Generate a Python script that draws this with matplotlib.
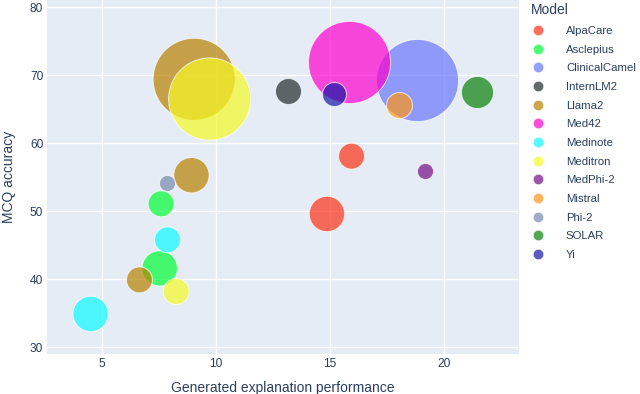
import matplotlib
matplotlib.use("Agg")
import matplotlib.pyplot as plt
from matplotlib.lines import Line2D

plt.rcParams['font.family'] = ['Liberation Sans', 'DejaVu Sans']

# model order as in the legend (also drawing order)
models = ['AlpaCare', 'Asclepius', 'ClinicalCamel', 'InternLM2', 'Llama2', 'Med42',
          'Medinote', 'Meditron', 'MedPhi-2', 'Mistral', 'Phi-2', 'SOLAR', 'Yi']
colors = ['#FD3216', '#00FE35', '#6A76FC', '#222A2A', '#B68100', '#FE00CE',
          '#0DF9FF', '#F6F926', '#750D86', '#FF9616', '#778AAE', '#0A800A', '#1616A7']

# one entry per point: model, explanation score, MCQ accuracy, params (B)
pt_model = ['AlpaCare', 'AlpaCare', 'Asclepius', 'Asclepius', 'ClinicalCamel', 'InternLM2',
            'Llama2', 'Llama2', 'Llama2', 'Med42', 'Medinote', 'Medinote',
            'Meditron', 'Meditron', 'MedPhi-2', 'Mistral', 'Phi-2', 'SOLAR', 'Yi']
pt_x = [15.94, 14.86, 7.59, 7.53, 18.79, 13.16,
        6.64, 8.92, 9.04, 15.82, 4.50, 7.87,
        8.25, 9.72, 19.14, 18.00, 7.84, 21.43, 15.15]
pt_y = [58.1, 49.6, 51.1, 41.6, 69.3, 67.7,
        39.9, 55.3, 69.4, 71.9, 34.9, 45.8,
        38.2, 66.5, 55.9, 65.6, 54.2, 67.5, 67.3]
pt_size = [7, 13, 7, 13, 70, 7,
           7, 13, 70, 70, 13, 7,
           7, 70, 2.7, 7, 2.7, 10.7, 6]

fig = plt.figure(figsize=(6.4, 3.94), dpi=100)
ax = fig.add_axes([0.0739, 0.1015, 0.737, 0.8985])
ax.set_facecolor('#E5ECF6')

for m, c in zip(models, colors):
    idx = [i for i, pm in enumerate(pt_model) if pm == m]
    ax.scatter([pt_x[i] for i in idx], [pt_y[i] for i in idx],
               s=[50 * pt_size[i] for i in idx], color=c, alpha=0.7,
               edgecolors='white', linewidths=0.75, zorder=3)

ax.set_xlim(2.6, 23.28)
ax.set_ylim(29.0, 81.07)
ax.set_xticks([5, 10, 15, 20])
ax.set_yticks([30, 40, 50, 60, 70, 80])
ax.grid(True, color='white', linewidth=1)
ax.set_axisbelow(True)
for s in ax.spines.values():
    s.set_visible(False)
ax.tick_params(length=0, labelsize=8.6, labelcolor='#2A3F5F', pad=3)
ax.set_xlabel('Generated explanation performance', fontsize=10, color='#2A3F5F', labelpad=8)
ax.set_ylabel('MCQ accuracy', fontsize=10, color='#2A3F5F', labelpad=10)

handles = [Line2D([], [], marker='o', linestyle='', markersize=7.5, color=c, alpha=0.7,
                  markeredgecolor='white', markeredgewidth=0.5) for c in colors]
leg = fig.legend(handles, models, title='Model', loc='upper left',
                 bbox_to_anchor=(0.822, 1.003), frameon=False, fontsize=8.2,
                 title_fontsize=10, labelcolor='#2A3F5F', handlelength=1.25,
                 handletextpad=1.85, labelspacing=0.76, alignment='left', borderaxespad=0)
leg.get_title().set_color('#2A3F5F')

fig.savefig('out.png', dpi=100, facecolor='white')
